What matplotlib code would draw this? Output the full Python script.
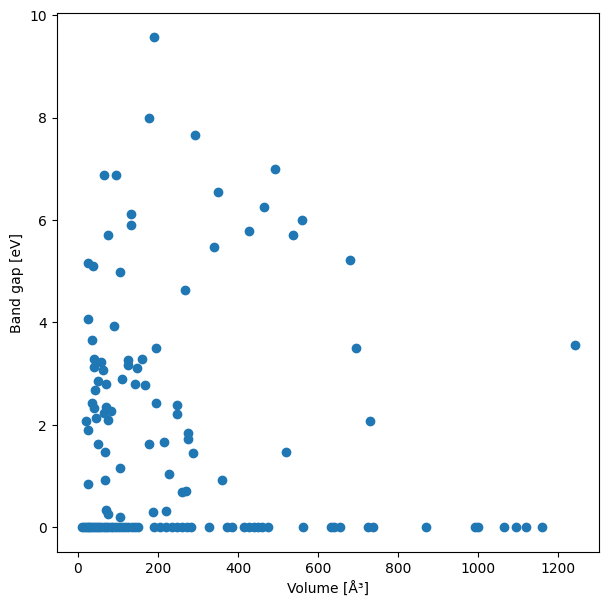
import numpy as np
from matplotlib import pyplot as plt

# materials with a finite band gap
vol_gapped = [26, 90, 36, 194, 41, 57, 39, 62, 125, 124, 160, 147, 49, 70, 109,
              142, 167, 42, 35, 40, 70, 194, 247, 247, 83, 64, 44, 74, 21, 24,
              275, 275, 51, 177, 214, 67, 287, 520, 104, 227, 361, 25, 68, 260,
              270, 70, 75, 106, 187, 221,
              190, 177, 292, 64, 95, 493, 350, 465, 560, 132, 132, 427, 538, 75,
              339, 24, 37, 106, 267,
              680, 696, 730, 1242]
gap_gapped = [4.07, 3.93, 3.66, 3.49, 3.29, 3.23, 3.12, 3.06, 3.26, 3.16, 3.29,
              3.10, 2.86, 2.80, 2.90, 2.80, 2.78, 2.67, 2.43, 2.33, 2.34, 2.43,
              2.39, 2.20, 2.26, 2.22, 2.14, 2.10, 2.07, 1.90, 1.83, 1.73, 1.63,
              1.63, 1.66, 1.47, 1.44, 1.46, 1.16, 1.03, 0.93, 0.85, 0.92, 0.69,
              0.71, 0.33, 0.26, 0.20, 0.29, 0.31,
              9.57, 8.00, 7.65, 6.87, 6.88, 7.00, 6.55, 6.25, 5.99, 6.12, 5.90,
              5.79, 5.71, 5.71, 5.47, 5.15, 5.10, 4.98, 4.63,
              5.22, 3.49, 2.08, 3.56]

# metals (zero gap)
vol_metal = [9, 14, 19, 24, 28, 33, 38, 43, 48, 53, 58, 64, 70, 76, 82, 88, 95,
             102, 110, 118, 126, 134, 142, 150,
             190, 205, 220, 235, 248, 260, 272, 282,
             328, 373, 385, 416, 428, 440, 450, 459, 474,
             563, 632, 641, 654, 726, 737, 869, 992, 999, 1065, 1096, 1121, 1160]

volume = np.array(vol_gapped + vol_metal)
band_gap = np.array(gap_gapped + [0.0] * len(vol_metal))

fig, ax = plt.subplots(figsize=(7, 7), dpi=100)
ax.scatter(volume, band_gap)
ax.set_xlabel("Volume [Å³]")
ax.set_ylabel("Band gap [eV]")
plt.savefig("out.png", bbox_inches="tight")
